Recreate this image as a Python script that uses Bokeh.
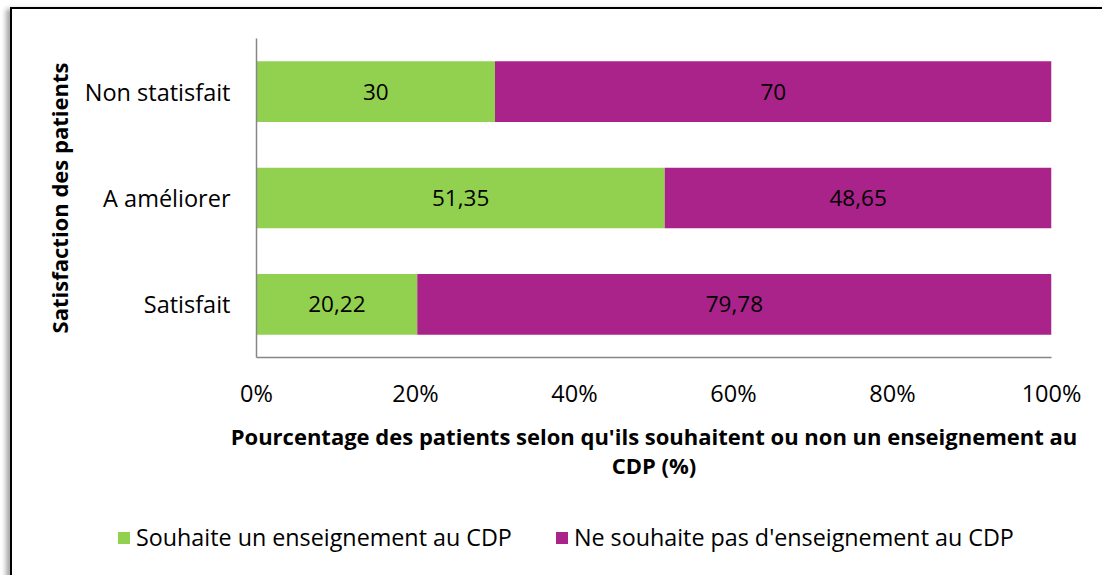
from bokeh.plotting import figure
from bokeh.layouts import column
from bokeh.models import (Range1d, FactorRange, ColumnDataSource, LabelSet, Legend, LegendItem,
                          CustomJSTickFormatter, FixedTicker)
from bokeh.embed import file_html
from bokeh.resources import INLINE
from bokeh.core.properties import value

categories = ["Satisfait", "A améliorer", "Non statisfait"]
souhaite = [20.22, 51.35, 30]
ne_souhaite_pas = [79.78, 48.65, 70]
souhaite_txt = ["20,22", "51,35", "30"]
ne_souhaite_pas_txt = ["79,78", "48,65", "70"]
series_names = ["Souhaite un enseignement au CDP", "Ne souhaite pas d'enseignement au CDP"]
xticks = [0, 20, 40, 60, 80, 100]

GREEN = "#92D050"
MAGENTA = "#A9238A"
FONT = "Open Sans"

src = ColumnDataSource(dict(
    cat=categories,
    s_end=souhaite,
    n_end=[a + b for a, b in zip(souhaite, ne_souhaite_pas)],
    s_mid=[a / 2 for a in souhaite],
    n_mid=[a + b / 2 for a, b in zip(souhaite, ne_souhaite_pas)],
    s_txt=souhaite_txt,
    n_txt=ne_souhaite_pas_txt,
))

p = figure(width=1090, height=500, y_range=FactorRange(*categories), x_range=Range1d(0, 100),
           output_backend="svg", toolbar_location=None,
           min_border_left=244, min_border_right=51, min_border_top=29, min_border_bottom=152)
p.frame_align = False

p.hbar(y="cat", left=0, right="s_end", height=0.57, source=src, fill_color=GREEN, line_color=None)
p.hbar(y="cat", left="s_end", right="n_end", height=0.57, source=src, fill_color=MAGENTA, line_color=None)

for xcol, tcol in (("s_mid", "s_txt"), ("n_mid", "n_txt")):
    p.add_layout(LabelSet(x=xcol, y="cat", text=tcol, source=src, text_align="center",
                          text_baseline="middle", text_font=value(FONT), text_font_size="22.5px",
                          text_color="#000000"))

p.xgrid.visible = False
p.ygrid.visible = False
p.outline_line_color = None

p.xaxis.ticker = FixedTicker(ticks=xticks)
p.xaxis.formatter = CustomJSTickFormatter(code="return tick + '%';")
for ax in (p.xaxis[0], p.yaxis[0]):
    ax.axis_line_color = "#868686"
    ax.axis_line_width = 1.5
    ax.major_tick_line_color = None
    ax.minor_tick_line_color = None
    ax.major_label_text_font = FONT
    ax.major_label_text_font_size = "23.5px"
    ax.major_label_text_color = "#000000"
    ax.axis_label_text_font = FONT
    ax.axis_label_text_font_style = "bold"
    ax.axis_label_text_font_size = "22px"
    ax.axis_label_text_color = "#000000"

p.xaxis.major_label_standoff = 13
p.xaxis.axis_label = "Pourcentage des patients selon qu'ils souhaitent ou non un enseignement au\nCDP (%)"
p.xaxis.axis_label_standoff = 9
p.xaxis.axis_label_text_line_height = 0.97
p.yaxis.major_label_standoff = 20
p.yaxis.axis_label = "Satisfaction des patients"
p.yaxis.axis_label_standoff = 8

# legend strip below the chart (its bars lie far outside its visible x-range; only the legend shows)
lg = figure(width=1090, height=70, x_range=Range1d(-1001, -1000), y_range=FactorRange(*categories),
            output_backend="svg", toolbar_location=None, min_border=0)
lg.frame_align = False
lg.axis.visible = False
lg.grid.visible = False
lg.outline_line_color = None
d1 = lg.hbar(y="cat", left=0, right="s_end", height=0.57, source=src, fill_color=GREEN, line_color=None)
d2 = lg.hbar(y="cat", left="s_end", right="n_end", height=0.57, source=src, fill_color=MAGENTA, line_color=None)
legend = Legend(items=[LegendItem(label=series_names[0], renderers=[d1]),
                       LegendItem(label=series_names[1], renderers=[d2])],
                orientation="horizontal", location=(104, 26),
                label_text_font=FONT, label_text_font_size="23.3px", label_text_color="#000000",
                glyph_width=15, glyph_height=15, label_standoff=5, spacing=42,
                padding=0, margin=0, border_line_color=None, background_fill_alpha=0)
lg.add_layout(legend, "center")

layout = column(p, lg, spacing=0,
                styles={"border": "2px solid #000", "margin": "7px 0 0 10px",
                        "box-shadow": "-4px 2px 5px rgba(0,0,0,0.35)", "background": "#fff"})

open("out.html", "w").write(file_html(layout, INLINE))
